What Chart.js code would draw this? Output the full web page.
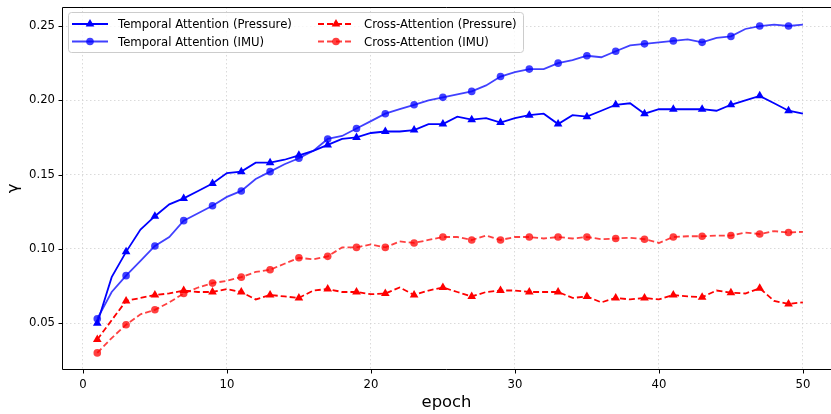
<!DOCTYPE html>
<html>
<head>
<meta charset="utf-8">
<script src="https://cdn.jsdelivr.net/npm/chart.js@4.4.1/dist/chart.umd.min.js"></script>
<style>
  html, body { margin: 0; padding: 0; background: #fff; }
  #wrap { width: 831px; height: 414px; }
</style>
</head>
<body>
<div id="wrap"><canvas id="gammaChart" width="831" height="414"></canvas></div>
<script>
const epochs = [1, 2, 3, 4, 5, 6, 7, 8, 9, 10, 11, 12, 13, 14, 15, 16, 17, 18, 19, 20,
    21, 22, 23, 24, 25, 26, 27, 28, 29, 30, 31, 32, 33, 34, 35, 36, 37, 38, 39, 40,
    41, 42, 43, 44, 45, 46, 47, 48, 49, 50];

const temporalPressure = [0.050, 0.081, 0.098, 0.113, 0.122, 0.130, 0.134, 0.139, 0.144, 0.151,
    0.152, 0.158, 0.158, 0.160, 0.163, 0.166, 0.170, 0.174, 0.175, 0.178,
    0.179, 0.179, 0.180, 0.184, 0.184, 0.189, 0.187, 0.188, 0.185, 0.188,
    0.190, 0.191, 0.184, 0.190, 0.189, 0.193, 0.197, 0.198, 0.191, 0.194,
    0.194, 0.194, 0.194, 0.193, 0.197, 0.200, 0.203, 0.198, 0.193, 0.191];

const temporalImu = [0.053, 0.071, 0.082, 0.092, 0.102, 0.108, 0.119, 0.124, 0.129, 0.135,
    0.139, 0.147, 0.152, 0.157, 0.161, 0.166, 0.174, 0.176, 0.181, 0.186,
    0.191, 0.194, 0.197, 0.200, 0.202, 0.204, 0.206, 0.210, 0.216, 0.219,
    0.221, 0.221, 0.225, 0.227, 0.230, 0.229, 0.233, 0.237, 0.238, 0.239,
    0.240, 0.241, 0.239, 0.242, 0.243, 0.248, 0.250, 0.251, 0.250, 0.251];

const crossPressure = [0.039, 0.052, 0.065, 0.067, 0.069, 0.070, 0.072, 0.071, 0.071, 0.073,
    0.071, 0.066, 0.069, 0.068, 0.067, 0.072, 0.073, 0.071, 0.071, 0.0695,
    0.070, 0.074, 0.069, 0.072, 0.074, 0.071, 0.068, 0.071, 0.072, 0.072,
    0.071, 0.071, 0.071, 0.067, 0.068, 0.064, 0.067, 0.066, 0.067, 0.066,
    0.069, 0.068, 0.0675, 0.072, 0.0705, 0.070, 0.0735, 0.065, 0.063, 0.064];

const crossImu = [0.030, 0.040, 0.049, 0.056, 0.059, 0.064, 0.070, 0.074, 0.077, 0.0785,
    0.081, 0.0845, 0.086, 0.090, 0.094, 0.093, 0.095, 0.101, 0.101, 0.103,
    0.101, 0.105, 0.104, 0.106, 0.108, 0.108, 0.106, 0.109, 0.106, 0.108,
    0.108, 0.107, 0.108, 0.107, 0.108, 0.1065, 0.107, 0.1075, 0.1065, 0.104,
    0.108, 0.1085, 0.1085, 0.109, 0.109, 0.111, 0.110, 0.112, 0.111, 0.1115];

const xTicks = [0, 10, 20, 30, 40, 50];
const yTicks = [0.05, 0.10, 0.15, 0.20, 0.25];

const FONT = 'DejaVu Sans';
const BLUE = 'rgb(0, 0, 255)';
const BLUE_A = 'rgba(0, 0, 255, 0.75)';
const RED = 'rgb(255, 0, 0)';
const RED_A = 'rgba(255, 0, 0, 0.75)';

const toPoints = vals => vals.map((v, i) => ({ x: epochs[i], y: v }));
// markers only on every second epoch
const everyOther = r => ctx => (ctx.dataIndex % 2 === 0 ? r : 0);

function series(label, vals, color, style, dashed, order) {
    return {
        label: label,
        data: toPoints(vals),
        borderColor: color,
        backgroundColor: color,
        pointBackgroundColor: color,
        pointBorderColor: color,
        borderWidth: 1.8,
        borderDash: dashed ? [6, 3] : [],
        pointStyle: style,
        pointRadius: everyOther(style === 'triangle' ? 5 : 3.8),
        pointBorderWidth: 0,
        tension: 0,
        fill: false,
        order: order
    };
}

const legendItems = [
    { label: 'Temporal Attention (Pressure)', color: BLUE, style: 'triangle', dashed: false, col: 0, row: 0 },
    { label: 'Temporal Attention (IMU)', color: BLUE_A, style: 'circle', dashed: false, col: 0, row: 1 },
    { label: 'Cross-Attention (Pressure)', color: RED, style: 'triangle', dashed: true, col: 1, row: 0 },
    { label: 'Cross-Attention (IMU)', color: RED_A, style: 'circle', dashed: true, col: 1, row: 1 }
];

function drawMarker(ctx, style, x, y, color) {
    ctx.fillStyle = color;
    ctx.beginPath();
    if (style === 'triangle') {
        const r = 5;
        ctx.moveTo(x, y - r);
        ctx.lineTo(x + r * 0.866, y + r * 0.5);
        ctx.lineTo(x - r * 0.866, y + r * 0.5);
        ctx.closePath();
    } else {
        ctx.arc(x, y, 3.8, 0, Math.PI * 2);
    }
    ctx.fill();
}

// chart.js pads the axes for the edge tick labels; drop that so the plot fills the frame
const noEdgePadding = s => {
    s.paddingLeft = 0; s.paddingRight = 0;
    s.paddingTop = 0; s.paddingBottom = 0;
};

const framePlugin = {
    id: 'frame',
    afterDraw(chart) {
        const { ctx, chartArea: a, scales } = chart;
        ctx.save();
        ctx.setLineDash([]);
        ctx.strokeStyle = '#000';
        ctx.lineWidth = 1;
        const L = Math.round(a.left) + 0.5, T = Math.round(a.top) + 0.5, B = Math.round(a.bottom) - 0.5;
        ctx.beginPath();
        ctx.moveTo(a.right, T); ctx.lineTo(L, T); ctx.lineTo(L, B); ctx.lineTo(a.right, B);
        xTicks.forEach(v => {
            const px = Math.round(scales.x.getPixelForValue(v)) + 0.5;
            ctx.moveTo(px, B); ctx.lineTo(px, B + 4);
        });
        yTicks.forEach(v => {
            const py = Math.round(scales.y.getPixelForValue(v)) + 0.5;
            ctx.moveTo(L - 4, py); ctx.lineTo(L, py);
        });
        ctx.stroke();

        // legend box, two columns in the upper left
        const bx = a.left + 6, by = a.top + 5, bw = 455, bh = 40;
        ctx.fillStyle = 'rgba(255,255,255,0.8)';
        ctx.strokeStyle = '#cccccc';
        ctx.beginPath();
        ctx.roundRect(bx + 0.5, by + 0.5, bw, bh, 3);
        ctx.fill();
        ctx.stroke();

        ctx.font = '11.7px "' + FONT + '"';
        ctx.textBaseline = 'middle';
        ctx.textAlign = 'left';
        legendItems.forEach(it => {
            const x0 = bx + 4 + it.col * 246;
            const y0 = by + 12 + it.row * 17.5;
            ctx.strokeStyle = it.color;
            ctx.lineWidth = 1.8;
            ctx.setLineDash(it.dashed ? [6, 3] : []);
            ctx.beginPath();
            ctx.moveTo(x0, y0); ctx.lineTo(x0 + 36, y0);
            ctx.stroke();
            ctx.setLineDash([]);
            drawMarker(ctx, it.style, x0 + 18, y0, it.color);
            ctx.fillStyle = '#000';
            ctx.fillText(it.label, x0 + 46, y0 + 1);
        });
        ctx.restore();
    }
};

new Chart(document.getElementById('gammaChart'), {
    type: 'line',
    data: {
        datasets: [
            series('Temporal Attention (Pressure)', temporalPressure, BLUE, 'triangle', false, 4),
            series('Temporal Attention (IMU)', temporalImu, BLUE_A, 'circle', false, 3),
            series('Cross-Attention (Pressure)', crossPressure, RED, 'triangle', true, 2),
            series('Cross-Attention (IMU)', crossImu, RED_A, 'circle', true, 1)
        ]
    },
    options: {
        responsive: false,
        animation: false,
        devicePixelRatio: 1,
        events: [],
        layout: { autoPadding: false, padding: { top: 7, right: 0, bottom: 0, left: 0 } },
        plugins: {
            legend: { display: false },
            tooltip: { enabled: false }
        },
        scales: {
            x: {
                type: 'linear',
                min: -1.45,
                max: 51.95,
                afterFit: s => { s.height = 44; noEdgePadding(s); },
                afterBuildTicks: s => { s.ticks = xTicks.map(v => ({ value: v })); },
                grid: { color: '#d0d0d0', lineWidth: 0.8, drawTicks: false },
                border: { display: false, dash: [1.5, 2.5] },
                ticks: {
                    padding: 8,
                    color: '#000',
                    font: { family: FONT, size: 11.7 },
                    maxRotation: 0,
                    callback: v => String(v)
                },
                title: {
                    display: true,
                    text: 'epoch',
                    color: '#000',
                    font: { family: FONT, size: 16.4 },
                    padding: { top: 0, bottom: 1 }
                }
            },
            y: {
                type: 'linear',
                min: 0.0185,
                max: 0.2628,
                afterFit: s => { s.width = 62; noEdgePadding(s); },
                afterBuildTicks: s => { s.ticks = yTicks.map(v => ({ value: v })); },
                grid: { color: '#d0d0d0', lineWidth: 0.8, drawTicks: false },
                border: { display: false, dash: [1.5, 2.5] },
                ticks: {
                    padding: 7,
                    color: '#000',
                    font: { family: FONT, size: 11.7 },
                    callback: v => v.toFixed(2)
                },
                title: {
                    display: true,
                    text: 'γ',
                    color: '#000',
                    font: { family: FONT, size: 16.4 },
                    padding: { top: 4, bottom: 0 }
                }
            }
        }
    },
    plugins: [framePlugin]
});
</script>
</body>
</html>
